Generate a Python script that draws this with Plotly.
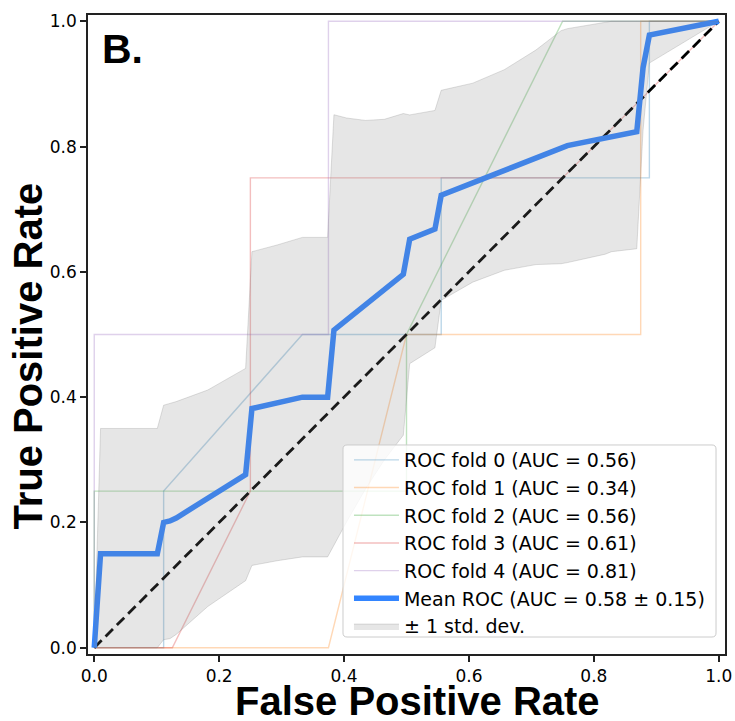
import plotly.graph_objects as go

# ---- data ----
fold_names = ["ROC fold 0 (AUC = 0.56)", "ROC fold 1 (AUC = 0.34)", "ROC fold 2 (AUC = 0.56)",
              "ROC fold 3 (AUC = 0.61)", "ROC fold 4 (AUC = 0.81)"]
fold0_fpr = [0, 0.1111, 0.1111, 0.3333, 0.5556, 0.5556, 0.8889, 0.8889, 1.0]
fold0_tpr = [0, 0, 0.25, 0.5, 0.5, 0.75, 0.75, 1.0, 1.0]
fold1_fpr = [0, 0.375, 0.5, 0.875, 0.875, 1.0]
fold1_tpr = [0, 0, 0.5, 0.5, 1.0, 1.0]
fold2_fpr = [0, 0, 0.5, 0.5, 0.75, 1.0]
fold2_tpr = [0, 0.25, 0.25, 0.5, 1.0, 1.0]
fold3_fpr = [0, 0.125, 0.25, 0.25, 0.75, 1.0]
fold3_tpr = [0, 0, 0.25, 0.75, 0.75, 1.0]
fold4_fpr = [0, 0, 0.375, 0.375, 1.0]
fold4_tpr = [0, 0.5, 0.5, 1.0, 1.0]

mean_name = "Mean ROC (AUC = 0.58 ± 0.15)"
mean_fpr = [0, 0.0101, 0.1010, 0.1111, 0.1212, 0.1313, 0.2424, 0.2525, 0.3333, 0.3737, 0.3838,
            0.4949, 0.5051, 0.5455, 0.5556, 0.7475, 0.7576, 0.8687, 0.8788, 0.8889, 1.0]
mean_tpr = [0, 0.15, 0.15, 0.2, 0.2023, 0.2071, 0.2765, 0.3818, 0.4, 0.4, 0.5071,
            0.596, 0.652, 0.6682, 0.7222, 0.799, 0.8015, 0.8237, 0.9258, 0.9778, 1.0]

std_name = "± 1 std. dev."
band_fpr = [0, 0.0101, 0.1010, 0.1111, 0.1212, 0.1313, 0.1818, 0.2424, 0.2525, 0.2929, 0.3333,
            0.3737, 0.3838, 0.4040, 0.4343, 0.4646, 0.4949, 0.5051, 0.5455, 0.5556, 0.6061,
            0.6566, 0.7071, 0.7475, 0.7576, 0.8081, 0.8182, 0.8283, 0.8687, 0.8788, 0.8889, 1.0]
band_upper = [0, 0.35, 0.35, 0.3871, 0.3900, 0.3929, 0.4114, 0.4459, 0.6322, 0.6429, 0.6550,
              0.6550, 0.8508, 0.8456, 0.8417, 0.8435, 0.8527, 0.8505, 0.8576, 0.8898, 0.9012,
              0.9227, 0.9540, 0.9850, 0.9882, 0.9970, 0.9991, 1.0, 1.0, 1.0, 1.0, 1.0]
band_lower = [0, 0, 0, 0.0129, 0.0145, 0.0213, 0.0658, 0.1071, 0.1314, 0.1389, 0.1450,
              0.1450, 0.1634, 0.2008, 0.2533, 0.2999, 0.3393, 0.4535, 0.4788, 0.5546, 0.5836,
              0.6025, 0.6116, 0.6130, 0.6148, 0.6262, 0.6282, 0.6322, 0.6369, 0.8262, 0.9333, 1.0]

chance = [0, 1]
tick_vals = [0, 0.2, 0.4, 0.6, 0.8, 1.0]
tick_text = ["0.0", "0.2", "0.4", "0.6", "0.8", "1.0"]
x_title = "False Positive Rate"
y_title = "True Positive Rate"
panel_label = "B."

fold_colors = ["rgba(31,119,180,0.3)", "rgba(255,127,14,0.3)", "rgba(44,160,44,0.3)",
               "rgba(214,39,40,0.3)", "rgba(148,103,189,0.3)"]

fig = go.Figure()
folds = [(fold0_fpr, fold0_tpr), (fold1_fpr, fold1_tpr), (fold2_fpr, fold2_tpr),
         (fold3_fpr, fold3_tpr), (fold4_fpr, fold4_tpr)]
for i, (fx, fy) in enumerate(folds):
    fig.add_trace(go.Scatter(x=fx, y=fy, mode="lines", name=fold_names[i],
                             line=dict(color=fold_colors[i], width=1.4)))

fig.add_trace(go.Scatter(x=chance, y=chance, mode="lines", showlegend=False,
                         line=dict(color="black", width=2.8, dash="10.5px,5.5px")))

fig.add_trace(go.Scatter(x=mean_fpr, y=mean_tpr, mode="lines", name=mean_name,
                         line=dict(color="#3385ff", width=5.5)))

fig.add_trace(go.Scatter(x=band_fpr, y=band_upper, mode="lines", showlegend=False,
                         line=dict(color="rgba(128,128,128,0.25)", width=1)))
fig.add_trace(go.Scatter(x=band_fpr, y=band_lower, mode="lines", name=std_name,
                         fill="tonexty", fillcolor="rgba(128,128,128,0.2)",
                         line=dict(color="rgba(128,128,128,0.25)", width=1)))

axis_common = dict(range=[-0.01, 1.01], tickvals=tick_vals, ticktext=tick_text,
                   showgrid=False, zeroline=False, showline=True, mirror=True,
                   linecolor="#222", linewidth=1.5, ticks="outside", ticklen=6,
                   tickwidth=1.5, tickcolor="#222", automargin=False,
                   tickfont=dict(family="DejaVu Sans", size=17, color="black"))

title_font = dict(family="Liberation Sans", size=40, color="black", weight="bold")

# legend frame (rounded) in paper coordinates
fx0, fx1, fy0, fy1 = 0.4003, 0.9859, 0.0266, 0.3271
rx, ry = 0.0063, 0.0063
frame_path = (f"M {fx0+rx},{fy0} L {fx1-rx},{fy0} Q {fx1},{fy0} {fx1},{fy0+ry} "
              f"L {fx1},{fy1-ry} Q {fx1},{fy1} {fx1-rx},{fy1} "
              f"L {fx0+rx},{fy1} Q {fx0},{fy1} {fx0},{fy1-ry} "
              f"L {fx0},{fy0+ry} Q {fx0},{fy0} {fx0+rx},{fy0} Z")

fig.update_layout(
    width=735, height=721,
    margin=dict(l=88, r=10, t=15, b=67, autoexpand=False),
    paper_bgcolor="white", plot_bgcolor="white",
    xaxis=dict(**axis_common),
    yaxis=dict(**axis_common),
    legend=dict(x=0.4097, y=0.3333, xanchor="left", yanchor="top",
                bgcolor="rgba(0,0,0,0)", borderwidth=0, traceorder="normal",
                font=dict(family="DejaVu Sans", size=19, color="black"),
                itemwidth=45),
    showlegend=True,
    shapes=[dict(type="path", xref="paper", yref="paper", path=frame_path,
                 fillcolor="rgba(255,255,255,0.8)", line=dict(color="#cccccc", width=1),
                 layer="above")],
    annotations=[
        dict(text=panel_label, xref="paper", yref="paper", x=0.021, y=0.984,
             xanchor="left", yanchor="top", showarrow=False, borderpad=0,
             font=dict(family="Liberation Sans", size=41, color="black", weight="bold")),
        dict(text=x_title, xref="paper", yref="paper", x=0.518, y=-0.0728,
             xanchor="center", yanchor="middle", showarrow=False, borderpad=0,
             font=title_font),
        dict(text=y_title, xref="paper", yref="paper", x=-0.0942, y=0.467,
             xanchor="center", yanchor="middle", textangle=-90, showarrow=False,
             borderpad=0, font=title_font),
    ],
)

fig.write_html("out.html", config={"displayModeBar": False},
               post_script="document.body.style.margin='0';")
